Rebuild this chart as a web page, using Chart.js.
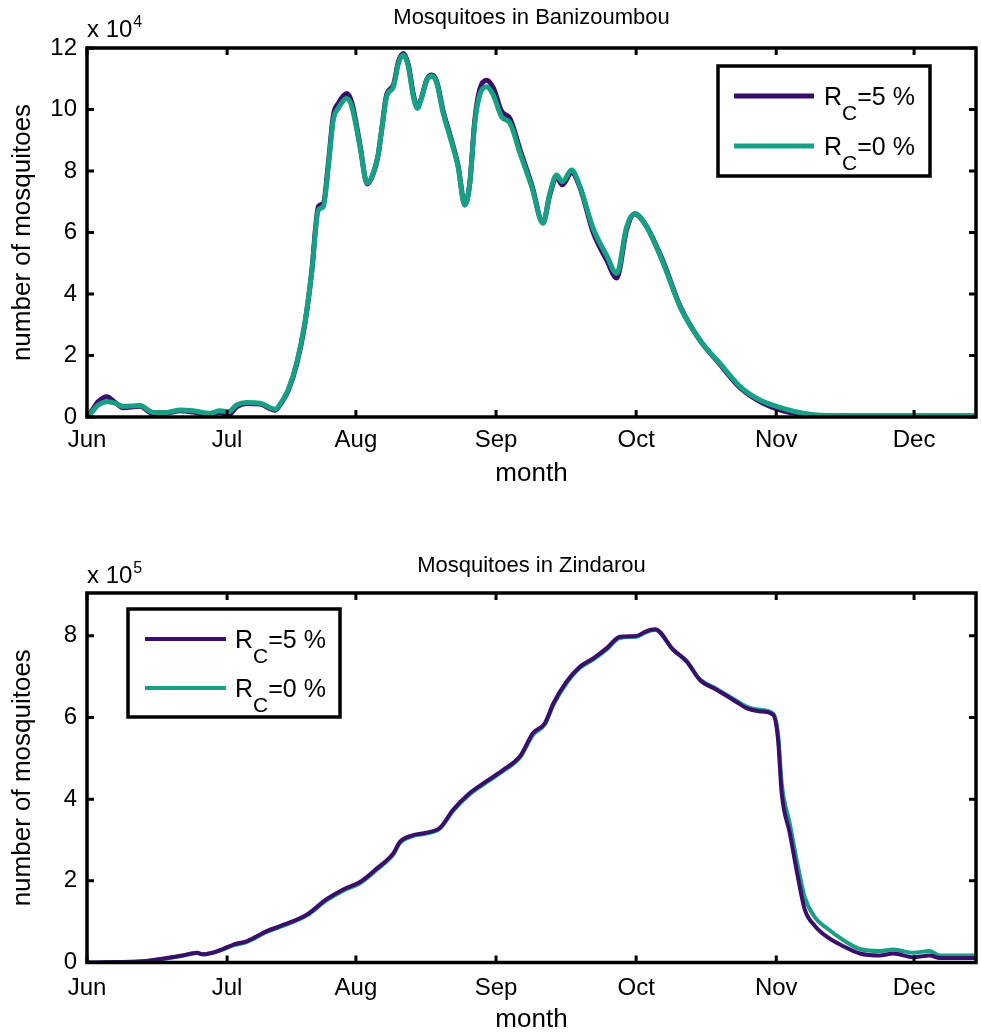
<!DOCTYPE html>
<html>
<head>
<meta charset="utf-8">
<title>Mosquito abundance</title>
<script src="https://cdn.jsdelivr.net/npm/chart.js@4.4.1/dist/chart.umd.min.js"></script>
<style>
  html, body { margin: 0; padding: 0; background: #fff; }
  canvas { display: block; }
</style>
</head>
<body>
<canvas id="baniz" width="981" height="518"></canvas>
<canvas id="zind" width="981" height="518"></canvas>
<script>
// ---- shared x axis: days counted from 1 June ----
const monthLabels = ['Jun', 'Jul', 'Aug', 'Sep', 'Oct', 'Nov', 'Dec'];
const monthTickDays = [0, 31, 59.5, 90.5, 121.5, 152.5, 183];
const dayRange = [0, 196.7];

const seriesLabels = ['R_C=5 %', 'R_C=0 %'];

// ---- Banizoumbou (number of mosquitoes, x 10^4) ----
const banizDays = [0, 0.7, 2.5, 4.4, 6.2, 8, 11.7, 14.7, 17.6, 20.6, 23.5, 27.2, 29.4, 31.3, 33.1, 35.3,
  38.3, 41.6, 43.1, 44.5, 46.4, 48.2, 49.7, 51.2, 52.3, 53.4, 54.5, 55.6, 57.5, 58.6, 60.4, 62, 63.3,
  64.4, 65.2, 66.3, 67.8, 68.9, 70, 71.1, 72.2, 73.1, 74, 75.2, 76.3, 77.4, 78.8, 80.3, 82.1, 83.6,
  84.7, 85.8, 86.9, 88.4, 89.9, 91.7, 93.6, 95.8, 98.4, 100.9, 102.4, 103.9, 105.2, 107.2, 109.1, 112,
  115, 117.2, 119.4, 121.2, 123.8, 127.5, 131.2, 135.6, 140, 144.5, 148.9, 154, 158.5, 162.2, 170, 196.7];
const banizRc5 = [0, 0.12, 0.5, 0.66, 0.48, 0.3, 0.35, 0.1, 0.12, 0.2, 0.16, 0.08, 0.15, 0.06, 0.33, 0.44,
  0.42, 0.22, 0.48, 0.85, 1.72, 3.02, 4.7, 6.85, 6.95, 8.25, 9.8, 10.2, 10.52, 10.22, 8.85, 7.58, 7.9,
  8.5, 9.35, 10.48, 10.8, 11.55, 11.82, 11.45, 10.5, 10.08, 10.38, 10.98, 11.12, 10.9, 9.95, 9.18, 8.18, 6.9,
  7.62, 9.65, 10.65, 10.95, 10.7, 9.95, 9.7, 8.7, 7.55, 6.32, 7.22, 7.8, 7.55, 7.95, 7.45, 6.0,
  5.1, 4.52, 6.1, 6.6, 6.2, 5.05, 3.62, 2.5, 1.72, 0.95, 0.5, 0.2, 0.08, 0.04, 0.03, 0.03];
const banizRc0 = [0, 0.1, 0.39, 0.5, 0.45, 0.34, 0.37, 0.15, 0.15, 0.23, 0.2, 0.12, 0.2, 0.17, 0.39, 0.47,
  0.45, 0.25, 0.5, 0.88, 1.76, 3.06, 4.68, 6.73, 6.84, 8.14, 9.66, 10.04, 10.36, 10.09, 8.79, 7.6, 7.92,
  8.52, 9.33, 10.42, 10.74, 11.5, 11.77, 11.39, 10.42, 10.04, 10.36, 10.96, 11.09, 10.85, 9.88, 9.12, 8.14, 6.89,
  7.6, 9.55, 10.47, 10.74, 10.47, 9.77, 9.55, 8.58, 7.49, 6.3, 7.27, 7.87, 7.65, 8.03, 7.49, 6.13,
  5.25, 4.67, 6.19, 6.62, 6.19, 5.0, 3.59, 2.5, 1.75, 0.99, 0.55, 0.28, 0.12, 0.06, 0.04, 0.04];
const banizYTicks = [0, 2, 4, 6, 8, 10, 12];

// ---- Zindarou (number of mosquitoes, x 10^5) ----
const zindDays = [0, 6, 12.4, 17.6, 21, 24.3, 25.7, 29.4, 32.4, 35.3, 39.8, 42.7, 48.6, 53, 56.7, 60.4,
  64.1, 67.8, 69.2, 72.2, 75.1, 78.1, 81, 84.7, 88.4, 92.1, 95.8, 98.7, 101.3, 103.2, 106.1, 109.1, 112,
  115, 117.9, 121.6, 123.5, 125.7, 129.7, 132.7, 135.6, 139.3, 143, 145.9, 148.9, 151.8, 152.9, 153.7,
  155.5, 157.4, 158.8, 161.1, 163.6, 167.3, 171, 175.4, 178.4, 182.8, 186.5, 188.7, 196.7];
const zindRc5 = [0, 0.01, 0.03, 0.11, 0.17, 0.24, 0.2, 0.3, 0.44, 0.52, 0.77, 0.89, 1.17, 1.55, 1.79, 1.97,
  2.3, 2.68, 2.95, 3.12, 3.18, 3.3, 3.74, 4.15, 4.44, 4.72, 5.05, 5.62, 5.86, 6.35, 6.88, 7.25, 7.45,
  7.7, 7.98, 8.0, 8.1, 8.16, 7.66, 7.37, 6.92, 6.68, 6.43, 6.23, 6.15, 6.07, 5.46, 4.15,
  3.17, 2.03, 1.3, 0.89, 0.64, 0.4, 0.22, 0.17, 0.22, 0.13, 0.17, 0.11, 0.11];
const zindRc0 = [0, 0.01, 0.03, 0.1, 0.16, 0.23, 0.2, 0.29, 0.42, 0.5, 0.75, 0.87, 1.15, 1.52, 1.76, 1.94,
  2.27, 2.65, 2.92, 3.1, 3.16, 3.28, 3.71, 4.12, 4.41, 4.69, 5.02, 5.58, 5.83, 6.31, 6.84, 7.22, 7.42,
  7.67, 7.95, 7.98, 8.08, 8.15, 7.66, 7.38, 6.94, 6.7, 6.46, 6.27, 6.19, 6.1, 5.6, 4.4,
  3.4, 2.3, 1.6, 1.1, 0.85, 0.55, 0.33, 0.28, 0.32, 0.24, 0.28, 0.17, 0.17];
const zindYTicks = [0, 2, 4, 6, 8];

const PURPLE = '#3a0f6c';
const TEAL = '#17a084';
const FONT = '"Liberation Sans", Arial, Helvetica, sans-serif';

Chart.defaults.font.family = FONT;
Chart.defaults.color = '#000';

const toPoints = (xs, ys) => xs.map((d, i) => ({ x: d, y: ys[i] }));

// Draws "R_C=5 %" style text with a lowered subscript
function drawSubText(ctx, text, x, y, size, subSize, subDrop) {
  const m = text.match(/^(.*)_(.)(.*)$/);
  const parts = m ? [[m[1], size, 0], [m[2], subSize, subDrop], [m[3], size, 0]] : [[text, size, 0]];
  let cx = x;
  ctx.textAlign = 'left';
  ctx.textBaseline = 'alphabetic';
  parts.forEach(([t, s, dy]) => {
    ctx.font = s + 'px ' + FONT;
    ctx.fillText(t, cx, y + dy);
    cx += ctx.measureText(t).width;
  });
}

// Box frame with inward ticks on all four sides, exponent label and legend
const boxedAxes = {
  id: 'boxedAxes',
  afterDatasetsDraw(chart, args, o) {
    const { ctx, chartArea: a, scales: { x, y } } = chart;
    ctx.save();
    ctx.strokeStyle = '#000';
    ctx.fillStyle = '#000';
    ctx.lineCap = 'butt';

    // tick marks
    ctx.lineWidth = o.tickWidth;
    ctx.beginPath();
    x.ticks.forEach(t => {
      const px = x.getPixelForValue(t.value);
      ctx.moveTo(px, a.bottom); ctx.lineTo(px, a.bottom - o.tickLen);
      ctx.moveTo(px, a.top); ctx.lineTo(px, a.top + o.tickLen);
    });
    y.ticks.forEach(t => {
      const py = y.getPixelForValue(t.value);
      ctx.moveTo(a.left, py); ctx.lineTo(a.left + o.tickLen, py);
      ctx.moveTo(a.right, py); ctx.lineTo(a.right - o.tickLen, py);
    });
    ctx.stroke();

    // frame
    ctx.lineWidth = o.frameWidth;
    ctx.strokeRect(a.left, a.top, a.width, a.height);

    // exponent, e.g. "x 10^4"
    ctx.textAlign = 'left';
    ctx.textBaseline = 'alphabetic';
    ctx.font = o.expSize + 'px ' + FONT;
    const base = 'x 10';
    ctx.fillText(base, a.left, a.top - o.expDrop);
    const bw = ctx.measureText(base).width;
    ctx.font = o.supSize + 'px ' + FONT;
    ctx.fillText(String(o.exponent), a.left + bw + 1, a.top - o.expDrop - o.supRise);

    // legend
    const L = o.legend;
    const bx = L.side === 'right' ? a.right - L.inset - L.w : a.left + L.inset;
    const by = a.top + L.top;
    ctx.fillStyle = '#fff';
    ctx.fillRect(bx, by, L.w, L.h);
    ctx.fillStyle = '#000';
    ctx.lineWidth = o.frameWidth;
    ctx.strokeRect(bx, by, L.w, L.h);
    chart.data.datasets.forEach((ds, i) => {
      const ly = by + L.firstRow + i * L.rowGap;
      ctx.strokeStyle = ds.borderColor;
      ctx.lineWidth = ds.borderWidth;
      ctx.beginPath();
      ctx.moveTo(bx + L.lineStart, ly);
      ctx.lineTo(bx + L.lineStart + L.lineLen, ly);
      ctx.stroke();
      drawSubText(ctx, ds.label, bx + L.textStart, ly + L.textDrop, L.size, L.subSize, L.subDrop);
    });
    ctx.restore();
  }
};

function makeChart(id, cfg) {
  return new Chart(document.getElementById(id), {
    type: 'line',
    data: {
      datasets: [
        { label: seriesLabels[0], data: toPoints(cfg.days, cfg.rc5), borderColor: PURPLE,
          borderWidth: cfg.lineWidth, order: cfg.purpleOnTop ? 0 : 1 },
        { label: seriesLabels[1], data: toPoints(cfg.days, cfg.rc0), borderColor: TEAL,
          borderWidth: cfg.lineWidth, order: cfg.purpleOnTop ? 1 : 0 }
      ]
    },
    options: {
      responsive: false,
      animation: false,
      devicePixelRatio: 1,
      layout: { padding: { left: 0, right: 5, top: 0, bottom: 0 } },
      elements: {
        point: { radius: 0, hoverRadius: 0 },
        line: { fill: false, cubicInterpolationMode: 'monotone', borderCapStyle: 'round', borderJoinStyle: 'round' }
      },
      plugins: {
        legend: { display: false },
        tooltip: { enabled: false },
        title: {
          display: true, text: cfg.title, fullSize: false, color: '#000',
          font: { size: 22, weight: 'normal' },
          padding: cfg.titlePad
        },
        boxedAxes: {
          tickLen: 7, tickWidth: 3, frameWidth: 3.5,
          exponent: cfg.exponent, expSize: 24, supSize: 16, expDrop: cfg.expDrop, supRise: 10,
          legend: cfg.legend
        }
      },
      scales: {
        x: {
          type: 'linear', min: dayRange[0], max: dayRange[1],
          afterBuildTicks: s => { s.ticks = monthTickDays.map(v => ({ value: v })); },
          afterFit: s => { s.height = cfg.xHeight; },
          grid: { display: false, drawTicks: false },
          border: { display: false },
          ticks: { autoSkip: false, maxRotation: 0, padding: cfg.xTickPad, font: { size: 24 },
                   callback: (v, i) => monthLabels[i] },
          title: { display: true, text: 'month', font: { size: 26 }, padding: { top: 0, bottom: cfg.xTitlePad } }
        },
        y: {
          type: 'linear', min: 0, max: cfg.yMax,
          afterBuildTicks: s => { s.ticks = cfg.yTicks.map(v => ({ value: v })); },
          afterFit: s => { s.width = 87; },
          grid: { display: false, drawTicks: false },
          border: { display: false },
          ticks: { padding: 10, font: { size: 24 } },
          title: { display: true, text: 'number of mosquitoes', font: { size: 26 }, padding: { top: 7, bottom: 0 } }
        }
      }
    },
    plugins: [boxedAxes]
  });
}

makeChart('baniz', {
  title: 'Mosquitoes in Banizoumbou',
  titlePad: { top: 5, bottom: 16.6 },
  days: banizDays, rc5: banizRc5, rc0: banizRc0,
  yMax: 12, yTicks: banizYTicks, exponent: 4, expDrop: 11,
  lineWidth: 5, purpleOnTop: false,
  xHeight: 101, xTickPad: 9, xTitlePad: 28.4,
  legend: { side: 'right', inset: 46, top: 18, w: 212, h: 110, firstRow: 30, rowGap: 50,
            lineStart: 16, lineLen: 80, textStart: 106, textDrop: 9, size: 25, subSize: 21, subDrop: 15 }
});

makeChart('zind', {
  title: 'Mosquitoes in Zindarou',
  titlePad: { top: 34.8, bottom: 13.8 },
  days: zindDays, rc5: zindRc5, rc0: zindRc0,
  yMax: 9.05, yTicks: zindYTicks, exponent: 5, expDrop: 10,
  lineWidth: 4, purpleOnTop: true,
  xHeight: 73.5, xTickPad: 11, xTitlePad: 0.4,
  legend: { side: 'left', inset: 41, top: 16, w: 212, h: 108, firstRow: 30, rowGap: 49,
            lineStart: 17, lineLen: 81, textStart: 107, textDrop: 9, size: 25, subSize: 21, subDrop: 15 }
});
</script>
</body>
</html>
